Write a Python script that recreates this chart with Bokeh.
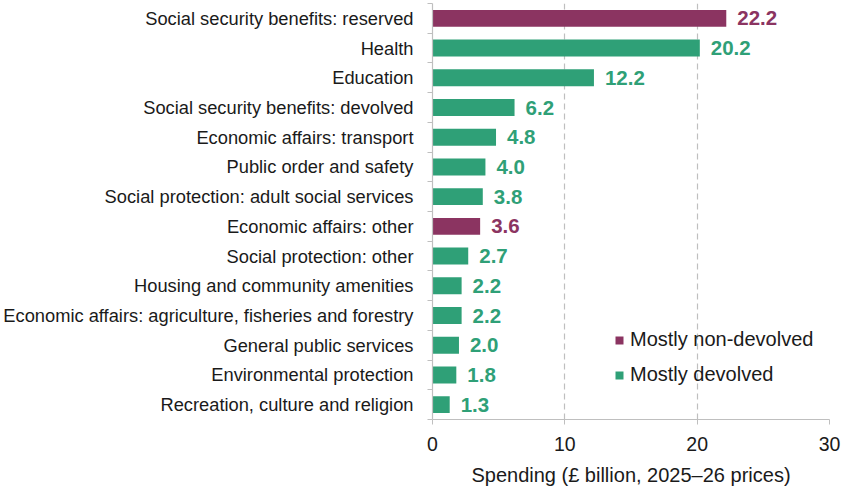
from bokeh.plotting import figure
from bokeh.models import ColumnDataSource, FixedTicker, Legend, LegendItem
from bokeh.core.properties import value
from bokeh.embed import file_html
from bokeh.resources import INLINE

# Spending by function, top to bottom
categories = [
    "Social security benefits: reserved",
    "Health",
    "Education",
    "Social security benefits: devolved",
    "Economic affairs: transport",
    "Public order and safety",
    "Social protection: adult social services",
    "Economic affairs: other",
    "Social protection: other",
    "Housing and community amenities",
    "Economic affairs: agriculture, fisheries and forestry",
    "General public services",
    "Environmental protection",
    "Recreation, culture and religion",
]
spending = [22.2, 20.2, 12.2, 6.2, 4.8, 4.0, 3.8, 3.6, 2.7, 2.2, 2.2, 2.0, 1.8, 1.3]
groups = ["Mostly non-devolved", "Mostly devolved", "Mostly devolved", "Mostly devolved",
          "Mostly devolved", "Mostly devolved", "Mostly devolved", "Mostly non-devolved",
          "Mostly devolved", "Mostly devolved", "Mostly devolved", "Mostly devolved",
          "Mostly devolved", "Mostly devolved"]
x_ticks = [0, 10, 20, 30]

PURPLE = "#8B3461"
GREEN = "#2FA077"
palette = {"Mostly non-devolved": PURPLE, "Mostly devolved": GREEN}
FONT = "Liberation Sans"
TEXT = "#1a1a1a"

n = len(categories)
ypos = [n - i for i in range(n)]  # first category at the top
source = ColumnDataSource(dict(
    y=ypos,
    v=spending,
    cat=categories,
    grp=groups,
    color=[palette[g] for g in groups],
    txt=[f"{v:.1f}" for v in spending],
))

p = figure(width=848, height=488, output_backend="svg", toolbar_location=None,
           x_range=(0, 30), y_range=(0.5, n + 0.5),
           min_border_left=432, min_border_right=19, min_border_top=3,
           min_border_bottom=67)
p.outline_line_color = None
p.background_fill_color = "white"

bars = p.hbar(y="y", right="v", left=0, height=0.57, source=source,
              fill_color="color", line_color=None)

p.text(x="v", y="y", text="txt", source=source, x_offset=11,
       text_align="left", text_baseline="middle",
       text_font=value(FONT), text_font_size="20.5px", text_font_style="bold",
       text_color="color")

# x axis
xa = p.xaxis[0]
xa.ticker = FixedTicker(ticks=x_ticks)
xa.axis_line_color = "#BFBFBF"
xa.axis_line_width = 1.2
xa.major_tick_line_color = "#BFBFBF"
xa.major_tick_out = 5
xa.major_tick_in = 0
xa.minor_tick_line_color = None
xa.major_label_text_font = FONT
xa.major_label_text_font_size = "19.5px"
xa.major_label_text_color = TEXT
xa.major_label_standoff = 12
xa.axis_label = "Spending (£ billion, 2025–26 prices)"
xa.axis_label_text_font = FONT
xa.axis_label_text_font_size = "20px"
xa.axis_label_text_font_style = "normal"
xa.axis_label_text_color = TEXT
xa.axis_label_standoff = 10

# y axis: category names at bar centres, tick marks between categories
ya = p.yaxis[0]
ya.ticker = FixedTicker(ticks=ypos, minor_ticks=[k + 0.5 for k in range(n + 1)])
ya.major_label_overrides = {y: c for y, c in zip(ypos, categories)}
ya.axis_line_color = "#BFBFBF"
ya.axis_line_width = 1.2
ya.major_tick_line_color = None
ya.minor_tick_line_color = "#BFBFBF"
ya.minor_tick_out = 5
ya.minor_tick_in = 0
ya.major_label_text_font = FONT
ya.major_label_text_font_size = "18.3px"
ya.major_label_text_color = TEXT
ya.major_label_standoff = 13

p.ygrid.grid_line_color = None
p.xgrid.ticker = FixedTicker(ticks=[10, 20, 30])
p.xgrid.grid_line_color = "#BFBFBF"
p.xgrid.grid_line_dash = "6 4"
p.xgrid.grid_line_width = 1.2

legend = Legend(items=[
    LegendItem(label="Mostly non-devolved", renderers=[bars], index=0),
    LegendItem(label="Mostly devolved", renderers=[bars], index=1),
], location=(182, 33))
legend.background_fill_alpha = 0
legend.border_line_color = None
legend.label_text_font = FONT
legend.label_text_font_size = "20px"
legend.label_text_color = TEXT
legend.glyph_width = 10
legend.glyph_height = 10
legend.label_standoff = 6
legend.spacing = 12
legend.padding = 0
legend.margin = 0
p.add_layout(legend, "center")

open("out.html", "w").write(file_html(p, INLINE))
